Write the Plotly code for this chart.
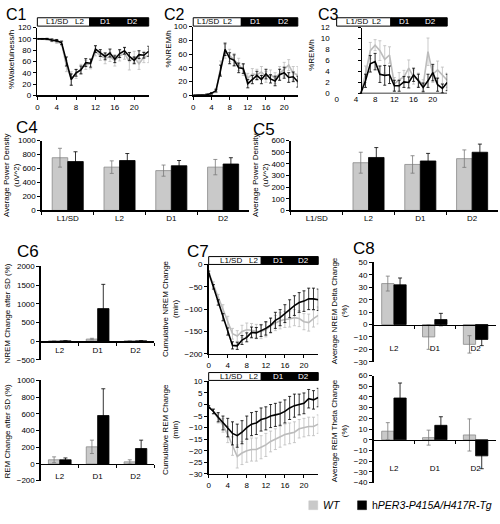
import plotly.graph_objects as go

W, H = 500, 524
def X(px): return px / W
def Y(py): return 1 - py / H

# ---------------- data ----------------
hours = list(range(24))
hour_ticks = [0, 4, 8, 12, 16, 20]
periods = ["L1/SD", "L2", "D1", "D2"]
post_periods = ["L2", "D1", "D2"]
header_labels = ["L1/SD", "L2", "D1", "D2"]
series_names = ["WT", "hPER3-P415A/H417R-Tg"]
panel_labels = ["C1", "C2", "C3", "C4", "C5", "C6", "C7", "C8"]

# C1 %Wakefulness/h
wake_wt = [100, 100, 99, 97, 95, 92, 52, 30, 38, 47, 54, 56, 78, 70, 66, 68, 62, 70, 74, 60, 68, 56, 68, 70]
wake_wt_err = [1, 1, 1, 2, 3, 4, 10, 12, 8, 8, 8, 9, 8, 8, 10, 8, 10, 9, 10, 15, 10, 10, 10, 12]
wake_tg = [100, 100, 100, 98, 97, 93, 60, 28, 40, 45, 58, 57, 82, 75, 69, 75, 64, 74, 79, 69, 62, 72, 71, 78]
wake_tg_err = [0.5, 0.5, 1, 2, 2, 3, 8, 10, 6, 7, 7, 7, 6, 6, 6, 7, 6, 7, 6, 7, 6, 7, 5, 9]

# C2 %NREM/h
nrem_wt = [0, 0, 0, 1, 2, 6, 40, 64, 58, 52, 45, 37, 25, 31, 30, 34, 27, 30, 25, 32, 38, 44, 32, 30]
nrem_wt_err = [0, 0, 0, 1, 1, 2, 10, 10, 9, 9, 9, 8, 7, 8, 8, 8, 8, 7, 8, 10, 10, 8, 10, 12]
nrem_tg = [0, 0, 0, 1, 3, 7, 36, 67, 54, 51, 40, 39, 17, 23, 29, 23, 31, 24, 21, 30, 33, 26, 27, 20]
nrem_tg_err = [0, 0, 0, 1, 1, 2, 8, 9, 8, 8, 7, 7, 6, 6, 6, 6, 7, 6, 7, 8, 8, 7, 7, 8]

# C3 %REM/h
rem_wt = [None] * 5 + [0, 3.5, 7.8, 8.8, 7.8, 6.2, 7.0, 1.7, 2.5, 3.0, 4.6, 3.0, 2.5, 1.5, 7.6, 3.5, 4.3, 3.3, 2.4]
rem_wt_err = [None] * 5 + [0, 1.5, 1.5, 1.0, 1.8, 2.5, 1.5, 1.2, 1.3, 1.2, 1.5, 1.3, 1.2, 1.0, 2.5, 1.5, 1.6, 1.5, 1.3]
rem_tg = [None] * 5 + [0, 2.3, 5.4, 5.8, 3.5, 3.3, 3.4, 1.4, 1.4, 2.1, 2.0, 3.4, 2.3, 1.1, 2.3, 3.8, 1.6, 0.9, 2.0]
rem_tg_err = [None] * 5 + [0, 1.2, 1.5, 1.5, 1.5, 1.8, 1.6, 1.0, 1.0, 1.0, 1.0, 1.2, 1.2, 0.8, 1.2, 1.5, 1.2, 0.8, 1.5]
rem_axis_hour = 5  # hour where the C3 vertical axis crosses

# C4 / C5 average power density (uV^2)
pd4_wt = [755, 620, 570, 620]
pd4_wt_err = [135, 90, 80, 110]
pd4_tg = [700, 715, 640, 665]
pd4_tg_err = [140, 100, 75, 90]
pd5_wt = [None, 410, 395, 445]
pd5_wt_err = [None, 90, 75, 75]
pd5_tg = [None, 455, 425, 500]
pd5_tg_err = [None, 85, 65, 70]

# C6 change after SD (%)
nrem_chg_wt = [2, 55, 5]
nrem_chg_wt_err = [3, 20, 5]
nrem_chg_tg = [3, 870, 5]
nrem_chg_tg_err = [3, 650, 3]
rem_chg_wt = [50, 205, 25]
rem_chg_wt_err = [35, 80, 25]
rem_chg_tg = [50, 580, 185]
rem_chg_tg_err = [22, 320, 100]

# C7 cumulative change (min)
cum_nrem_wt = [-18, -45, -75, -100, -128, -155, -160, -150, -146, -147, -150, -150, -146, -137, -131, -126, -123, -122, -119, -121, -128, -130, -121, -114]
cum_nrem_wt_err = [4, 6, 8, 10, 12, 12, 12, 14, 15, 15, 16, 16, 16, 17, 17, 18, 18, 18, 18, 18, 18, 19, 19, 19]
cum_nrem_tg = [-18, -50, -85, -118, -150, -181, -182, -169, -163, -152, -153, -148, -143, -136, -125, -119, -110, -99, -92, -85, -82, -77, -77, -79]
cum_nrem_tg_err = [3, 5, 6, 8, 8, 8, 8, 10, 10, 12, 12, 13, 15, 16, 18, 18, 20, 20, 22, 22, 23, 24, 24, 24]
cum_rem_wt = [-1, -3, -6, -9, -13, -18, -22.5, -21, -20, -19.5, -19.5, -18.5, -17.5, -16, -15, -14, -13, -12.5, -12, -10.5, -10, -9.5, -9.5, -8.5]
cum_rem_wt_err = [0.5, 1, 2, 3, 3.5, 4, 5, 5, 5, 5, 5, 5, 5, 4.5, 4.5, 4.5, 4.5, 4.5, 4.5, 4, 4, 4, 4, 4]
cum_rem_tg = [-1, -3, -5.5, -8, -10, -12.5, -13.5, -12, -10, -8.5, -8, -6.5, -6, -5, -4.5, -4, -3, -1.5, -0.5, 0, 0.5, 2.5, 2, 3]
cum_rem_tg_err = [0.5, 1, 2, 3, 4, 5, 5, 5, 5, 5, 5, 5, 5, 5, 5, 5, 5, 5, 5, 4.5, 4.5, 4, 4, 4]

# C8 spectral change (%)
delta_wt = [33, -10, -16]
delta_wt_err = [6, 10, 7]
delta_tg = [32, 4, -12]
delta_tg_err = [5.5, 5, 5]
theta_wt = [8, 2, 4.5]
theta_wt_err = [8, 7, 15]
theta_tg = [39, 13.5, -15]
theta_tg_err = [14, 8, 12]

# ---------------- styling ----------------
FONT = "Liberation Sans, Arial, sans-serif"
WT_LINE = "#bcbcbc"
WT_BAR = "#c9c9c9"
WT_BAR_EDGE = "#8a8a8a"
TG = "#000000"

fig = go.Figure()
layout = {}
shapes = []
annotations = []

def akey(i, letter):
    return f"{letter}axis" if i == 1 else f"{letter}axis{i}"

def aref(i, letter):
    return letter if i == 1 else f"{letter}{i}"

base = dict(showgrid=False, zeroline=False, showline=True, linecolor="black", linewidth=1.5,
            ticks="outside", ticklen=3, tickwidth=1, tickcolor="black",
            tickfont=dict(size=8, color="black", family=FONT), fixedrange=True)

def add_line_panel(i, xdom, ydom, yr, dtick, wt, wte, tg, tge):
    layout[akey(i, "x")] = dict(base, domain=[X(xdom[0]), X(xdom[1])], anchor=aref(i, "y"),
                                range=[0, 23], tickmode="array", tickvals=hour_ticks)
    layout[akey(i, "y")] = dict(base, domain=[Y(ydom[1]), Y(ydom[0])], anchor=aref(i, "x"),
                                range=list(yr), dtick=dtick)
    for vals, errs, col in ((wt, wte, WT_LINE), (tg, tge, TG)):
        fig.add_trace(go.Scatter(x=hours, y=vals, mode="lines",
                                 line=dict(color=col, width=1.6),
                                 error_y=dict(type="data", array=errs, color=col, thickness=0.8, width=1.5),
                                 xaxis=aref(i, "x"), yaxis=aref(i, "y"), showlegend=False,
                                 hoverinfo="skip"))

def add_bar_panel(i, xdom, ydom, yr, dtick, cats, wt, wte, tg, tge, at_zero=False, standoff=0):
    xa = dict(base, domain=[X(xdom[0]), X(xdom[1])], type="category",
              categoryorder="array", categoryarray=cats, range=[-0.5, len(cats) - 0.5],
              tickson="boundaries")
    if at_zero:
        zero_py = ydom[1] - (0 - yr[0]) / (yr[1] - yr[0]) * (ydom[1] - ydom[0])
        xa.update(anchor="free", position=Y(zero_py), ticklabelstandoff=standoff)
    else:
        xa.update(anchor=aref(i, "y"))
    layout[akey(i, "x")] = xa
    layout[akey(i, "y")] = dict(base, domain=[Y(ydom[1]), Y(ydom[0])], anchor=aref(i, "x"),
                                range=list(yr), dtick=dtick)
    fig.add_trace(go.Bar(x=cats, y=wt, marker=dict(color=WT_BAR, line=dict(color=WT_BAR_EDGE, width=0.8)),
                         error_y=dict(type="data", array=wte, color="#7a7a7a", thickness=0.8, width=2),
                         xaxis=aref(i, "x"), yaxis=aref(i, "y"), showlegend=False, hoverinfo="skip"))
    fig.add_trace(go.Bar(x=cats, y=tg, marker=dict(color=TG, line=dict(color=TG, width=0.8)),
                         error_y=dict(type="data", array=tge, color=TG, thickness=0.8, width=2),
                         xaxis=aref(i, "x"), yaxis=aref(i, "y"), showlegend=False, hoverinfo="skip"))

def add_header(xdom, ytop, ybot, split, label_fr):
    x0, x1 = xdom
    xm = x0 + split * (x1 - x0)
    shapes.append(dict(type="rect", xref="paper", yref="paper", x0=X(x0), x1=X(xm), y0=Y(ybot), y1=Y(ytop),
                       fillcolor="white", line=dict(color="black", width=1)))
    shapes.append(dict(type="rect", xref="paper", yref="paper", x0=X(xm), x1=X(x1), y0=Y(ybot), y1=Y(ytop),
                       fillcolor="black", line=dict(color="black", width=1)))
    for lab, fr, col in zip(header_labels, label_fr, ["black", "black", "white", "white"]):
        annotations.append(dict(text=lab, xref="paper", yref="paper", x=X(x0 + fr * (x1 - x0)),
                                y=Y((ytop + ybot) / 2), showarrow=False, xanchor="center", yanchor="middle",
                                font=dict(size=8, color=col, family=FONT)))

def add_ytitle(text, cx, cy):
    annotations.append(dict(text=text, xref="paper", yref="paper", x=X(cx), y=Y(cy), textangle=-90,
                            showarrow=False, xanchor="center", yanchor="middle",
                            font=dict(size=8, color="black", family=FONT)))

# ---- C1, C2, C3
C3_X = (336, 447)
add_line_panel(1, (35.5, 147.3), (24, 93), (0, 120), 20, wake_wt, wake_wt_err, wake_tg, wake_tg_err)
add_line_panel(2, (192, 297), (23, 93), (0, 100), 20, nrem_wt, nrem_wt_err, nrem_tg, nrem_tg_err)
add_line_panel(3, C3_X, (24, 91), (0, 12), 2, rem_wt, rem_wt_err, rem_tg, rem_tg_err)
# C3: tick labels at the left edge, vertical axis line crossing at hour 5
layout["yaxis3"].update(showline=False, ticks="", ticklabelstandoff=6)
layout["xaxis3"].update(showline=False, ticks="")
layout["yaxis12"] = dict(base, overlaying="y3", anchor="free",
                         position=X(C3_X[0] + rem_axis_hour * (C3_X[1] - C3_X[0]) / 23),
                         range=[0, 12], dtick=2, showticklabels=False)
fig.add_trace(go.Scatter(x=[None], y=[None], xaxis="x3", yaxis="y12", mode="lines",
                         showlegend=False, hoverinfo="skip"))
shapes.append(dict(type="line", xref="x3", yref="y3", x0=rem_axis_hour, x1=23, y0=0, y1=0,
                   line=dict(color="black", width=1.5)))

add_header((35.5, 147.3), 14, 22.5, 0.47, [0.18, 0.38, 0.61, 0.85])
add_header((192, 297), 14, 22.5, 0.46, [0.14, 0.33, 0.60, 0.86])
add_header(C3_X, 14, 22.5, 0.49, [0.18, 0.36, 0.61, 0.85])

# ---- C4, C5
add_bar_panel(4, (40, 248), (139, 210), (0, 1000), 200, periods, pd4_wt, pd4_wt_err, pd4_tg, pd4_tg_err)
add_bar_panel(5, (290, 498), (139, 210), (0, 600), 100, periods, pd5_wt, pd5_wt_err, pd5_tg, pd5_tg_err)

# ---- C6
add_bar_panel(6, (39, 153), (267, 362), (-500, 2000), 500, post_periods,
              nrem_chg_wt, nrem_chg_wt_err, nrem_chg_tg, nrem_chg_tg_err, at_zero=True, standoff=1)
add_bar_panel(7, (39, 153), (383, 485), (-200, 1000), 200, post_periods,
              rem_chg_wt, rem_chg_wt_err, rem_chg_tg, rem_chg_tg_err, at_zero=True, standoff=4)

# ---- C7
add_line_panel(8, (207.5, 317.5), (265, 356), (-200, 0), 50, cum_nrem_wt, cum_nrem_wt_err, cum_nrem_tg, cum_nrem_tg_err)
add_line_panel(9, (207.5, 317.5), (384, 478), (-30, 10), 5, cum_rem_wt, cum_rem_wt_err, cum_rem_tg, cum_rem_tg_err)
add_header((207.5, 317.5), 257, 265, 0.48, [0.20, 0.41, 0.64, 0.87])
add_header((207.5, 317.5), 375, 383, 0.48, [0.20, 0.41, 0.64, 0.87])

# ---- C8
add_bar_panel(10, (373, 496), (263, 364), (-30, 50), 10, post_periods,
              delta_wt, delta_wt_err, delta_tg, delta_tg_err, at_zero=True, standoff=15)
add_bar_panel(11, (373, 496), (378, 487), (-40, 60), 10, post_periods,
              theta_wt, theta_wt_err, theta_tg, theta_tg_err, at_zero=True, standoff=20)

# ---- axis titles
add_ytitle("%Wakefulness/h", 9, 56)
add_ytitle("%NREM/h", 167, 46)
add_ytitle("%REM/h", 310, 52)
add_ytitle("Average Power Density<br>(uV^2)", 9, 174)
add_ytitle("Average Power Density<br>(uV^2)", 259, 174)
add_ytitle("NREM Change after SD (%)", 6, 315)
add_ytitle("REM Change after SD (%)", 6, 434)
add_ytitle("Cumulative NREM Change<br>(min)", 169, 310)
add_ytitle("Cumulative REM Change<br>(min)", 169, 433)
add_ytitle("Average NREM Delta Change<br>(%)", 339, 312)
add_ytitle("Average REM Theta Change<br>(%)", 339, 434)

# ---- panel labels
for lab, (cx, cy), fs in zip(panel_labels,
                             [(15, 10.5), (173, 10.5), (328, 10.5), (25, 126), (263, 128),
                              (26, 252), (197, 252), (363, 249)],
                             [16, 16, 16, 17, 17, 17, 17, 17]):
    annotations.append(dict(text=lab, xref="paper", yref="paper", x=X(cx), y=Y(cy), showarrow=False,
                            xanchor="center", yanchor="middle", font=dict(size=fs, color="black", family=FONT)))

# ---- legend (key squares + names)
legend_y = 510
for name, col, edge, sx in zip(series_names, [WT_BAR, TG], [WT_BAR, TG], [308, 357]):
    shapes.append(dict(type="rect", xref="paper", yref="paper", x0=X(sx), x1=X(sx + 9),
                       y0=Y(legend_y + 4.5), y1=Y(legend_y - 4.5), fillcolor=col, line=dict(color=edge, width=0.5)))
    disp = "<i>" + name + "</i>" if name == "WT" else name[0] + "<i>" + name[1:] + "</i>"
    annotations.append(dict(text=disp, xref="paper", yref="paper", x=X(sx + 12), y=Y(legend_y),
                            showarrow=False, xanchor="left", yanchor="middle",
                            font=dict(size=10.5, color="black", family=FONT)))

fig.update_layout(**layout)
fig.update_layout(width=W, height=H, margin=dict(l=0, r=0, t=0, b=0),
                  paper_bgcolor="white", plot_bgcolor="rgba(0,0,0,0)",
                  barmode="group", bargap=0.4, bargroupgap=0,
                  font=dict(family=FONT, size=8, color="black"),
                  showlegend=False, shapes=shapes, annotations=annotations)

# remove the browser's default page margin so the figure sits at the window origin
fig.write_html("out.html", config={"displayModeBar": False, "staticPlot": True},
               post_script="document.body.style.margin='0';document.body.style.overflow='hidden';")
